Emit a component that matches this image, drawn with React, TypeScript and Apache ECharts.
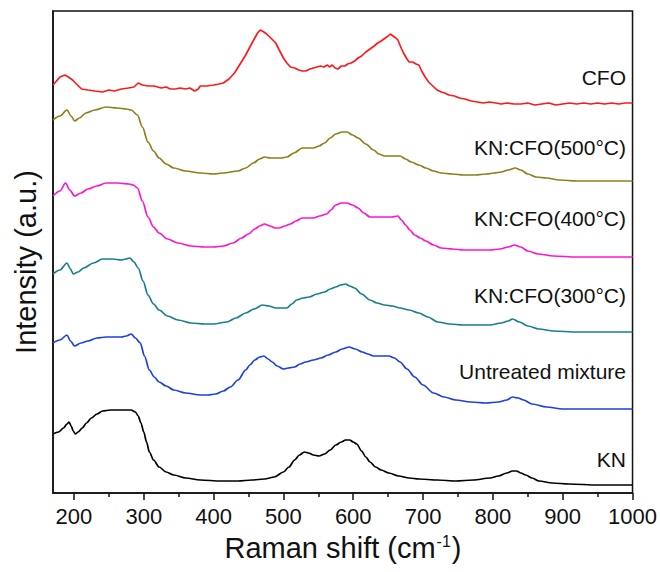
import React, { useEffect, useRef } from "react";
import * as echarts from "echarts";

// Raman shift (cm-1) vs. intensity (arbitrary, stacked offsets)
const cfoData: [number, number][] = [
  [170, 408], [175, 412], [180, 416], [187, 418], [192, 416], [198, 413], [205, 408], [211, 404],
  [220, 403], [230, 402], [241, 401], [250, 403], [258, 402], [268, 404], [278, 405], [286, 406],
  [292, 410], [298, 408], [306, 407], [315, 407], [325, 405], [332, 406], [338, 404], [345, 404],
  [352, 405], [360, 404], [366, 405], [373, 402], [378, 404], [381, 407], [390, 407], [400, 408],
  [408, 409], [414, 410], [422, 414], [430, 420], [438, 429], [446, 438], [452, 446], [459, 455],
  [463, 460], [467, 463], [472, 461], [476, 459], [482, 455], [489, 450], [494, 443], [500, 435],
  [505, 430], [510, 426], [516, 425], [522, 423], [527, 422], [532, 422], [538, 424], [543, 425],
  [548, 426], [553, 427], [558, 426], [563, 428], [566, 426], [570, 428], [574, 425], [578, 424],
  [583, 427], [588, 427], [592, 429], [597, 430], [602, 432], [607, 435], [612, 437], [618, 441],
  [624, 444], [630, 447], [635, 450], [640, 452], [646, 455], [650, 457], [653, 459], [657, 457],
  [661, 455], [664, 453], [668, 446], [672, 440], [677, 434], [680, 431], [685, 431], [690, 429],
  [694, 428], [698, 422], [703, 416], [708, 411], [714, 407], [720, 403], [726, 401], [731, 400],
  [737, 398], [745, 397], [752, 395], [760, 394], [769, 392], [778, 391], [786, 390], [795, 391],
  [804, 390], [812, 389], [820, 390], [830, 389], [840, 389], [850, 390], [860, 388], [870, 389],
  [880, 390], [890, 388], [900, 389], [910, 390], [920, 389], [930, 390], [940, 389], [950, 390],
  [960, 389], [970, 390], [980, 389], [990, 390], [1000, 390],
];

const kncfo500Data: [number, number][] = [
  [170, 373], [180, 377], [190, 383], [196, 377], [201, 372], [208, 375], [217, 380], [230, 383],
  [246, 386], [262, 385], [275, 384], [282, 383], [291, 378], [298, 366], [306, 351], [314, 342],
  [322, 335], [332, 329], [343, 325], [360, 322], [381, 320], [400, 319], [414, 320], [435, 322],
  [446, 325], [457, 330], [466, 334], [473, 336], [481, 335], [489, 335], [497, 335], [505, 336],
  [515, 340], [527, 345], [535, 345], [543, 345], [551, 347], [559, 350], [567, 355], [575, 359],
  [584, 361], [591, 361], [599, 358], [607, 355], [618, 349], [629, 343], [637, 339], [645, 337],
  [656, 337], [667, 337], [675, 334], [683, 331], [694, 328], [704, 325], [715, 322], [726, 320],
  [742, 319], [758, 318], [775, 318], [791, 319], [802, 320], [812, 321], [822, 323], [832, 325],
  [840, 323], [850, 319], [862, 316], [877, 315], [895, 313], [920, 312], [950, 312], [975, 312],
  [1000, 312],
];

const kncfo400Data: [number, number][] = [
  [170, 297], [180, 302], [188, 310], [194, 303], [201, 297], [210, 300], [220, 304], [233, 307],
  [246, 310], [262, 310], [279, 309], [285, 308], [291, 305], [298, 292], [306, 276], [314, 266],
  [322, 260], [334, 254], [349, 250], [368, 247], [387, 246], [400, 246], [414, 247], [428, 250],
  [440, 255], [450, 259], [459, 264], [466, 267], [473, 269], [481, 267], [488, 265], [494, 265],
  [502, 267], [510, 269], [518, 272], [527, 275], [535, 275], [543, 275], [552, 277], [562, 279],
  [568, 283], [575, 288], [583, 290], [591, 290], [599, 288], [607, 285], [615, 280], [624, 276],
  [634, 276], [645, 276], [655, 276], [664, 277], [669, 273], [675, 268], [681, 263], [688, 258],
  [696, 255], [704, 252], [715, 248], [726, 245], [742, 244], [758, 243], [778, 243], [796, 243],
  [810, 244], [822, 246], [831, 248], [840, 246], [850, 242], [865, 239], [887, 237], [920, 236],
  [960, 236], [1000, 236],
];

const kncfo300Data: [number, number][] = [
  [170, 219], [180, 223], [190, 230], [195, 224], [199, 219], [206, 221], [214, 225], [228, 230],
  [241, 234], [255, 234], [268, 233], [274, 234], [280, 235], [286, 231], [292, 225], [299, 212],
  [306, 198], [314, 189], [322, 183], [334, 177], [349, 173], [368, 170], [387, 169], [400, 169],
  [419, 171], [432, 175], [446, 180], [458, 184], [470, 188], [479, 187], [489, 185], [497, 185],
  [505, 185], [512, 189], [519, 193], [528, 195], [537, 196], [548, 199], [559, 201], [567, 204],
  [575, 206], [582, 208], [589, 209], [595, 207], [602, 205], [612, 199], [624, 193], [634, 190],
  [645, 188], [656, 187], [667, 185], [680, 183], [694, 180], [707, 176], [721, 171], [738, 169],
  [758, 168], [778, 168], [796, 168], [812, 170], [822, 172], [828, 174], [838, 171], [850, 167],
  [866, 164], [887, 162], [920, 161], [960, 161], [1000, 161],
];

const untreatedData: [number, number][] = [
  [170, 150], [180, 153], [190, 158], [195, 152], [201, 147], [210, 150], [220, 152], [233, 155],
  [246, 156], [257, 156], [268, 156], [275, 157], [282, 159], [288, 155], [295, 150], [301, 137],
  [308, 123], [315, 116], [322, 111], [332, 107], [343, 103], [360, 100], [381, 98], [392, 98],
  [403, 99], [414, 102], [424, 106], [435, 113], [446, 123], [452, 128], [459, 133], [466, 136],
  [472, 137], [478, 134], [484, 131], [491, 127], [500, 124], [507, 125], [516, 126], [524, 129],
  [532, 131], [543, 133], [554, 135], [564, 138], [575, 141], [584, 144], [594, 146], [603, 144],
  [613, 141], [621, 139], [629, 137], [640, 137], [651, 137], [659, 135], [667, 131], [677, 124],
  [688, 116], [700, 108], [715, 100], [730, 96], [747, 93], [768, 91], [790, 90], [808, 91],
  [820, 93], [828, 96], [836, 95], [844, 93], [856, 89], [877, 86], [900, 84], [920, 84],
  [960, 84], [1000, 84],
];

const knData: [number, number][] = [
  [170, 59], [178, 61], [185, 65], [190, 69], [193, 71], [196, 67], [199, 62], [202, 59],
  [206, 61], [212, 65], [218, 70], [225, 75], [233, 79], [241, 82], [252, 83], [263, 83],
  [274, 83], [282, 83], [288, 81], [292, 77], [296, 70], [300, 61], [304, 51], [308, 41],
  [314, 33], [322, 26], [332, 21], [343, 18], [360, 15], [381, 13], [410, 12], [435, 12],
  [455, 13], [473, 14], [487, 16], [500, 21], [508, 26], [516, 33], [523, 38], [530, 41],
  [536, 40], [543, 38], [551, 37], [559, 39], [567, 43], [575, 48], [583, 51], [589, 53],
  [595, 53], [600, 51], [605, 49], [612, 42], [618, 36], [624, 31], [632, 26], [640, 23],
  [651, 20], [665, 17], [680, 15], [694, 14], [720, 13], [747, 12], [772, 13], [796, 15],
  [808, 17], [820, 20], [828, 22], [834, 22], [840, 20], [847, 18], [856, 15], [866, 12],
  [885, 10], [909, 9], [950, 8], [1000, 8],
];

const seriesNames = [
  "CFO",
  "KN:CFO(500°C)",
  "KN:CFO(400°C)",
  "KN:CFO(300°C)",
  "Untreated mixture",
  "KN",
];
const seriesData = [cfoData, kncfo500Data, kncfo400Data, kncfo300Data, untreatedData, knData];
const seriesColors = ["#ff1a1a", "#8f7f1a", "#ff14d0", "#177f8e", "#1c3fe6", "#000000"];

const majorTicks = [200, 300, 400, 500, 600, 700, 800, 900, 1000];
const minorTicks = [250, 350, 450, 550, 650, 750, 850, 950];

const xMin = 170;
const xMax = 1000;
const yMin = 0;
const yMax = 482;

// label layout (pixel positions)
const labelY = [77, 147, 218, 295, 371, 459];

const FONT = "'Liberation Sans', Arial, sans-serif";

export default function App() {
  const ref = useRef<HTMLDivElement>(null);

  useEffect(() => {
    if (!ref.current) return;
    const chart = echarts.init(ref.current, undefined, { renderer: "svg" });

    const option: any = {
      animation: false,
      backgroundColor: "#ffffff",
      grid: {
        left: 53,
        top: 11,
        width: 580,
        height: 482,
        show: true,
        borderColor: "#111",
        borderWidth: 1.5,
        backgroundColor: "transparent",
      },
      xAxis: [
        {
          type: "value",
          min: xMin,
          max: xMax,
          position: "bottom",
          axisLine: { show: true, lineStyle: { color: "#111", width: 1.5 } },
          axisTick: {
            show: true,
            inside: false,
            length: 7,
            customValues: majorTicks,
            lineStyle: { color: "#111", width: 1.5 },
          },
          axisLabel: {
            show: true,
            customValues: majorTicks,
            formatter: (v: number) => String(v),
            fontSize: 22,
            color: "#111",
            fontFamily: FONT,
            margin: 12,
          },
          splitLine: { show: false },
        },
        {
          type: "value",
          min: xMin,
          max: xMax,
          position: "bottom",
          offset: 0,
          axisLine: { show: false },
          axisTick: {
            show: true,
            inside: false,
            length: 4,
            customValues: minorTicks,
            lineStyle: { color: "#111", width: 1.5 },
          },
          axisLabel: { show: false },
          splitLine: { show: false },
        },
      ],
      yAxis: {
        type: "value",
        min: yMin,
        max: yMax,
        axisLine: { show: true, lineStyle: { color: "#111", width: 1.5 } },
        axisTick: { show: false },
        axisLabel: { show: false },
        splitLine: { show: false },
      },
      series: seriesNames.map((name, i) => ({
        name,
        type: "line",
        xAxisIndex: 0,
        data: seriesData[i],
        showSymbol: false,
        symbol: "none",
        smooth: i === 0 ? false : 0.3,
        smoothMonotone: "x",
        lineStyle: { color: seriesColors[i], width: 1.7 },
        itemStyle: { color: seriesColors[i] },
      })),
      graphic: [
        ...seriesNames.map((name, i) => ({
          type: "text",
          x: 626,
          y: labelY[i],
          style: {
            text: name,
            fill: "#111",
            font: `21px ${FONT}`,
            textAlign: "right",
            textVerticalAlign: "middle",
          },
        })),
        {
          type: "text",
          x: 343,
          y: 548,
          style: {
            text: "Raman shift (cm{sup|-1})",
            fill: "#111",
            font: `29px ${FONT}`,
            textAlign: "center",
            textVerticalAlign: "middle",
            rich: {
              sup: {
                fontSize: 16,
                fontFamily: FONT,
                fill: "#111",
                verticalAlign: "top",
                padding: [0, 1, 13, 1],
              },
            },
          },
        },
        {
          type: "text",
          x: 26,
          y: 262,
          rotation: Math.PI / 2,
          style: {
            text: "Intensity (a.u.)",
            fill: "#111",
            font: `29px ${FONT}`,
            textAlign: "center",
            textVerticalAlign: "middle",
          },
        },
      ],
    };

    chart.setOption(option);
    return () => {
      chart.dispose();
    };
  }, []);

  return (
    <div
      ref={ref}
      style={{ position: "fixed", left: 0, top: 0, width: 660, height: 572 }}
    />
  );
}
